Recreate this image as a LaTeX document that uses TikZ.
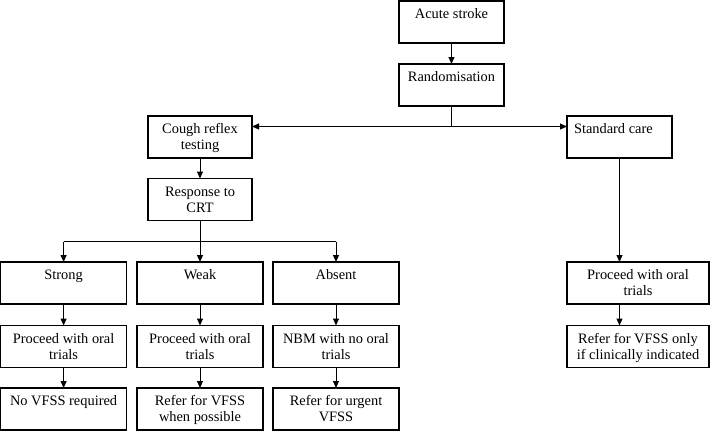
\documentclass[tikz,border=0pt]{standalone}
\usepackage{fontspec}
\setmainfont{Liberation Serif}
\usetikzlibrary{arrows.meta}
\newcommand\bxt[3]{\parbox[c][#2][t]{#1}{\centering\rule{0pt}{17.5pt}#3}}
\begin{document}
\begin{tikzpicture}[x=1pt,y=-1pt,
  bx/.style={draw, line width=1.2pt, inner sep=0pt, outer sep=0pt, anchor=north west,
    font=\fontsize{14.4}{16}\selectfont},
  arr/.style={line width=1pt, -{Triangle[length=7pt,width=6pt]}},
  ln/.style={line width=1pt}]
\useasboundingbox (0,0) rectangle (710,431);
\node[bx] (acute) at (399,1) {\bxt{105pt}{42pt}{Acute stroke}};
\node[bx] (rand) at (399,64) {\bxt{105pt}{42pt}{Randomisation}};
\node[bx] (cough) at (148,116) {\bxt{104pt}{42pt}{Cough reflex\\testing}};
\node[bx] (std) at (567,116) {\parbox[c][42pt][t]{105pt}{\raggedright\hspace*{7pt}\rule{0pt}{17.5pt}Standard care}};
\node[bx] (resp) at (148,178.5) {\bxt{104pt}{42pt}{Response to\\CRT}};
\node[bx] (strong) at (0.6,262) {\bxt{126pt}{42pt}{Strong}};
\node[bx] (weak) at (137,262) {\bxt{126pt}{42pt}{Weak}};
\node[bx] (absent) at (273,262) {\bxt{126pt}{42pt}{Absent}};
\node[bx] (p1) at (0.6,325.5) {\bxt{126pt}{42pt}{Proceed with oral\\trials}};
\node[bx] (p2) at (137,325.5) {\bxt{126pt}{42pt}{Proceed with oral\\trials}};
\node[bx] (p3) at (273,325.5) {\bxt{126pt}{42pt}{NBM with no oral\\trials}};
\node[bx] (r1) at (0.6,388) {\bxt{126pt}{42pt}{No VFSS required}};
\node[bx] (r2) at (137,388) {\bxt{126pt}{42pt}{Refer for VFSS\\when possible}};
\node[bx] (r3) at (273,388) {\bxt{126pt}{42pt}{Refer for urgent\\VFSS}};
\node[bx] (rp) at (567,262) {\bxt{142pt}{42pt}{Proceed with oral\\trials}};
\node[bx] (rr) at (567,325.5) {\bxt{142pt}{42pt}{Refer for VFSS only\\if clinically indicated}};
% connectors
\draw[arr] (acute) -- (rand);
\coordinate (j) at ([yshift=-20.5pt]rand.south);
\draw[ln] (rand.south) -- (j);
\draw[arr] (j) -- (j -| cough.east);
\draw[arr] (j) -- (j -| std.west);
\draw[arr] (cough) -- (resp);
\draw[arr] (std.south) -- (std.south |- rp.north);
\draw[arr] (std.south |- rp.south) -- (std.south |- rr.north);
\coordinate (b) at ([yshift=-21pt]resp.south);
\draw[ln] (resp.south) -- (b);
\draw[ln] (b -| strong.north) -- (b -| absent.north);
\draw[arr] (b -| strong.north) -- (strong.north);
\draw[arr] (b -| weak.north) -- (weak.north);
\draw[arr] (b -| absent.north) -- (absent.north);
\draw[arr] (strong) -- (p1);
\draw[arr] (weak) -- (p2);
\draw[arr] (absent) -- (p3);
\draw[arr] (p1) -- (r1);
\draw[arr] (p2) -- (r2);
\draw[arr] (p3) -- (r3);
\end{tikzpicture}
\end{document}
